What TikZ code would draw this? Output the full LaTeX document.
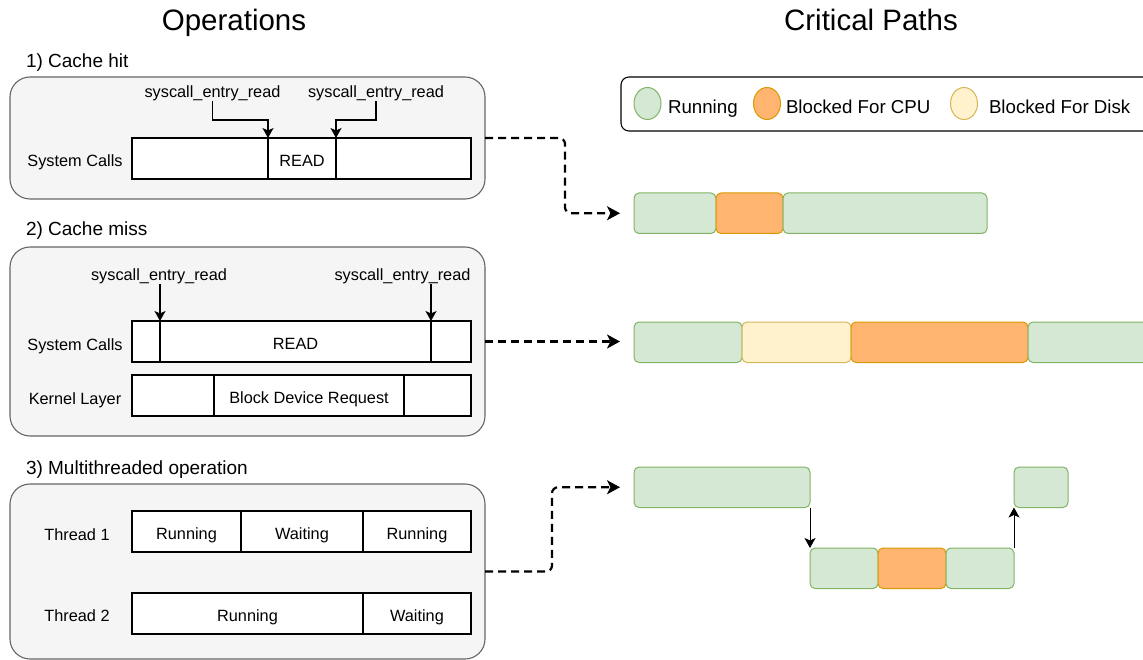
\documentclass[tikz,border=0pt]{standalone}
\usepackage{fontspec}
\setmainfont{Liberation Sans}
\usetikzlibrary{arrows.meta,shapes.geometric}
\definecolor{panelfill}{HTML}{F5F5F5}
\definecolor{panelline}{HTML}{666666}
\definecolor{runfill}{HTML}{D5E8D4}
\definecolor{runline}{HTML}{82B366}
\definecolor{cpufill}{HTML}{FFB570}
\definecolor{cpuline}{HTML}{D79B00}
\definecolor{diskfill}{HTML}{FFF2CC}
\definecolor{diskline}{HTML}{D6B656}

\begin{document}
\begin{tikzpicture}[x=1pt,y=-1pt,
  every node/.style={inner sep=0pt, outer sep=0pt},
  title/.style={font=\fontsize{29.5}{34}\selectfont, text height=21pt, text depth=0pt},
  section/.style={anchor=west, font=\fontsize{19}{22}\selectfont, text height=15.4pt, text depth=0pt},
  small/.style={font=\fontsize{16.3}{19}\selectfont, text height=20pt, text depth=4pt},
  panel/.style={draw=panelline, fill=panelfill, line width=1.1pt, rounded corners=20pt,
                anchor=north west, minimum width=475pt},
  seg/.style={small, draw=black, fill=white, line width=1.1pt, anchor=north west, minimum height=41pt},
  state/.style={anchor=north west, line width=1pt, rounded corners=5pt, minimum height=40.5pt},
  run/.style={state, draw=runline, fill=runfill},
  cpu/.style={state, draw=cpuline, fill=cpufill},
  disk/.style={state, draw=diskline, fill=diskfill},
  legbox/.style={draw=black, fill=white, line width=1.1pt, rounded corners=8pt, anchor=north west},
  legtext/.style={anchor=west, font=\fontsize{18.7}{22}\selectfont, text height=16.6pt, text depth=0pt},
  dot/.style={ellipse, line width=1pt, minimum width=27pt, minimum height=32pt},
  tick/.style={draw=black, line width=1.1pt, -{Stealth[length=10pt, width=11pt, inset=2.5pt]}},
  feed/.style={draw=black, line width=2.2pt, dash pattern=on 8pt off 5pt, rounded corners=6pt,
               -{Stealth[length=13pt, width=14pt, inset=3.5pt]}}
]
\clip (0,0) rectangle (1143,660);

% ---------- headings ----------
\node[title] (hops) at (234,20) {Operations};
\node[title] (hcp)  at (871,20) {Critical Paths};

% ---------- 1) cache hit ----------
\node[section] (sec1) at (26,60) {1) Cache hit};
\node[panel, minimum height=122pt] (p1) at (10,77) {};
\node[small] (lab1) at (75,158.5) {System Calls};
\node[seg, minimum width=136pt] (s1a) at (132,138) {};
\node[seg, minimum width=68pt]  (s1b) at (268,138) {READ};
\node[seg, minimum width=135pt] (s1c) at (336,138) {};
\node[small] (sl1) at (212.5,89.5) {syscall\_entry\_read};
\node[small] (sl2) at (376,89.5)   {syscall\_entry\_read};
\draw[tick] (sl1.south) |- ([yshift=18pt]s1b.north west) -- (s1b.north west);
\draw[tick] (sl2.south) |- ([yshift=18pt]s1c.north west) -- (s1c.north west);

% ---------- 2) cache miss ----------
\node[section] (sec2) at (26,228) {2) Cache miss};
\node[panel, minimum height=189pt] (p2) at (10,247) {};
\node[small] (lab2) at (75,342) {System Calls};
\node[seg, minimum width=28pt]  (s2a) at (132,321) {};
\node[seg, minimum width=271pt] (s2b) at (160,321) {READ};
\node[seg, minimum width=40pt]  (s2c) at (431,321) {};
\node[small] (lab3) at (75,396) {Kernel Layer};
\node[seg, minimum width=82pt]  (k2a) at (132,375) {};
\node[seg, minimum width=190pt] (k2b) at (214,375) {Block Device Request};
\node[seg, minimum width=67pt]  (k2c) at (404,375) {};
\node[small] (sl3) at (159,272.5) {syscall\_entry\_read};
\node[small] (sl4) at (402.5,272.5) {syscall\_entry\_read};
\draw[tick] (sl3.south -| s2b.north west) -- (s2b.north west);
\draw[tick] (sl4.south -| s2c.north west) -- (s2c.north west);

% ---------- 3) multithreaded operation ----------
\node[section] (sec3) at (26,466.5) {3) Multithreaded operation};
\node[panel, minimum height=175pt] (p3) at (10,484) {};
\node[small] (lab4) at (77,532) {Thread 1};
\node[seg, minimum width=109pt] (t1a) at (132,511) {Running};
\node[seg, minimum width=122pt] (t1b) at (241,511) {Waiting};
\node[seg, minimum width=108pt] (t1c) at (363,511) {Running};
\node[small] (lab5) at (77,613.5) {Thread 2};
\node[seg, minimum width=231pt] (t2a) at (132,593) {Running};
\node[seg, minimum width=108pt] (t2b) at (363,593) {Waiting};

% ---------- legend ----------
\node[legbox, minimum width=540pt, minimum height=54pt] (leg) at (621,77) {};
\node[dot, draw=runline, fill=runfill]   (lgr) at (647.5,103.5) {};
\node[legtext] (lgrt) at (668,105) {Running};
\node[dot, draw=cpuline, fill=cpufill]   (lgc) at (767,103.5) {};
\node[legtext] (lgct) at (786,105) {Blocked For CPU};
\node[dot, draw=diskline, fill=diskfill] (lgd) at (964,103.5) {};
\node[legtext] (lgdt) at (989,105) {Blocked For Disk};

% ---------- critical path of 1) ----------
\node[run, minimum width=82pt]  (r1a) at (634,193) {};
\node[cpu, minimum width=67pt]  (r1b) at (716,193) {};
\node[run, minimum width=204pt] (r1c) at (783,193) {};

% ---------- critical path of 2) ----------
\node[run,  minimum width=108pt] (r2a) at (634,322) {};
\node[disk, minimum width=109pt] (r2b) at (742,322) {};
\node[cpu,  minimum width=177pt] (r2c) at (851,322) {};
\node[run,  minimum width=130pt] (r2d) at (1028,322) {};

% ---------- critical path of 3) ----------
\node[run, minimum width=176pt] (r3a) at (634,467) {};
\node[run, minimum width=54pt]  (r3b) at (1014,467) {};
\node[run, minimum width=68pt]  (r4a) at (810,548) {};
\node[cpu, minimum width=68pt]  (r4b) at (878,548) {};
\node[run, minimum width=68pt]  (r4c) at (946,548) {};
\draw[tick, line width=1pt] (r3a.south east) -- (r4a.north west);
\draw[tick, line width=1pt] (r4c.north east) -- (r3b.south west);

% ---------- links from operations to their critical paths ----------
\draw[feed] (p1.east) -- ++(80,0) |- ([xshift=-14pt]r1a.west);
\draw[feed] (p2.east) -- ([xshift=-14pt]r2a.west |- p2.east);
\draw[feed] (p3.east) -- ++(67,0) |- ([xshift=-14pt]r3a.west);
\end{tikzpicture}
\end{document}
